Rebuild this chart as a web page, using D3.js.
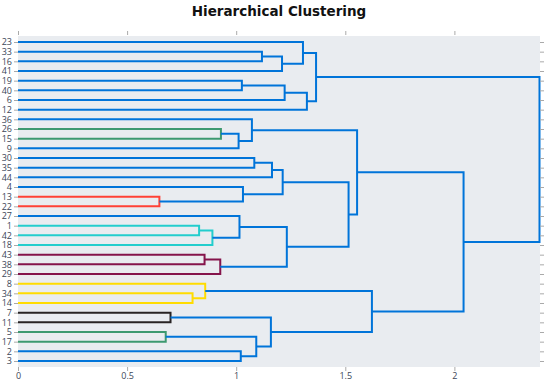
<!DOCTYPE html>
<html>
<head>
<meta charset="utf-8">
<script src="https://cdn.jsdelivr.net/npm/d3@7"></script>
<style>
  body { margin: 0; background: #fff; }
  svg { display: block; }
</style>
</head>
<body>
<svg id="chart"></svg>
<script>
// leaf labels, top to bottom
const leaves = ["23","33","16","41","19","40","6","12","36","26","15","9","30","35","44","4",
  "13","22","27","1","42","18","43","38","29","8","34","14","7","11","5","17","2","3"];

// merges: merge i is called "n"+(i+1); children are leaf labels or earlier merges
const mergeLeft  = ["33","n1","23","19","n4","n5","n3","26","n8","36","30","n11","13","4","n12",
  "1","n16","27","43","n19","n18","n15","n10","34","8","7","5","2","n27","n26","n25","n23","n7"];
const mergeRight = ["16","41","n2","40","6","12","n6","15","9","n9","35","44","22","n13","n14",
  "42","18","n17","38","29","n20","n21","n22","14","n24","11","17","3","n28","n29","n30","n31","n32"];
const mergeHeight = [1.118,1.21,1.306,1.026,1.222,1.324,1.366,0.93,1.011,1.072,1.083,1.164,0.648,1.031,1.213,
  0.83,0.891,1.015,0.855,0.927,1.232,1.515,1.554,0.80,0.858,0.699,0.677,1.021,1.092,1.159,1.622,2.042,2.39];
// cluster of each merge (0 = above threshold)
const mergeCluster = [0,0,0,0,0,0,0,1,0,0,0,0,2,0,0,
  3,3,0,4,4,0,0,0,5,5,6,1,0,0,0,0,0,0];

const clusterColors = ["rgb(0,116,217)", "rgb(61,153,112)", "rgb(255,65,54)", "rgb(35,205,205)",
  "rgb(133,20,75)", "rgb(255,220,0)", "rgb(40,35,35)"];

const xTicks = [0, 0.5, 1, 1.5, 2];

const width = 550, height = 383;
const plot = { left: 18, right: 540, top: 36, bottom: 367 };

const svg = d3.select("#chart")
  .attr("width", width)
  .attr("height", height)
  .style("font-family", "'Open Sans', sans-serif");

const x = d3.scaleLinear().domain([0, 2.39]).range([plot.left, 539.5]);
// leaves sit at 5, 15, 25, ... like the plotly dendrogram
const leafPos = leaves.map((d, i) => 5 + 10 * i);
const y = d3.scaleLinear().domain([5, 5 + 10 * (leaves.length - 1)]).range([42, 361]);

svg.append("rect")
  .attr("x", plot.left)
  .attr("y", plot.top)
  .attr("width", plot.right - plot.left)
  .attr("height", plot.bottom - plot.top)
  .attr("fill", "#e9ecf0");

// node positions
const nodes = {};
leaves.forEach((l, i) => { nodes[l] = { h: 0, p: leafPos[i] }; });
mergeHeight.forEach((h, i) => {
  const a = nodes[mergeLeft[i]], b = nodes[mergeRight[i]];
  nodes["n" + (i + 1)] = { h: h, p: (a.p + b.p) / 2 };
});

const line = d3.line().x(d => x(d[0])).y(d => y(d[1]));

const links = mergeHeight.map((h, i) => {
  const a = nodes[mergeLeft[i]], b = nodes[mergeRight[i]];
  return { pts: [[a.h, a.p], [h, a.p], [h, b.p], [b.h, b.p]], c: mergeCluster[i] };
});

svg.append("g")
  .selectAll("path")
  .data(links)
  .join("path")
    .attr("d", d => line(d.pts))
    .attr("fill", "none")
    .attr("stroke", d => clusterColors[d.c])
    .attr("stroke-width", 2);

// axes
const tickColor = "#aaa";
function styleAxis(g) {
  g.select(".domain").remove();
  g.selectAll(".tick line").attr("stroke", tickColor);
  g.selectAll(".tick text").attr("fill", "#3c4758").style("font-size", "9px")
    .style("font-family", "'Open Sans', sans-serif");
}

svg.append("g")
  .attr("transform", `translate(0,${plot.bottom})`)
  .call(d3.axisBottom(x).tickValues(xTicks).tickSize(4).tickPadding(2).tickFormat(d3.format("")))
  .call(styleAxis);

svg.append("g")
  .attr("transform", `translate(0,${plot.top - 1})`)
  .call(d3.axisTop(x).tickValues(xTicks).tickSize(4).tickFormat(""))
  .call(styleAxis);

svg.append("g")
  .attr("transform", `translate(${plot.left},0)`)
  .call(d3.axisLeft(y).tickValues(leafPos).tickSize(4).tickPadding(2).tickFormat((d, i) => leaves[i]))
  .call(styleAxis);

svg.append("g")
  .attr("transform", `translate(${plot.right},0)`)
  .call(d3.axisRight(y).tickValues(leafPos).tickSize(4).tickFormat(""))
  .call(styleAxis);

svg.append("text")
  .attr("x", 279)
  .attr("y", 16)
  .attr("text-anchor", "middle")
  .style("font-family", "'DejaVu Sans', sans-serif")
  .style("font-weight", "bold")
  .style("font-size", "13.5px")
  .attr("fill", "#111")
  .text("Hierarchical Clustering");
</script>
</body>
</html>
